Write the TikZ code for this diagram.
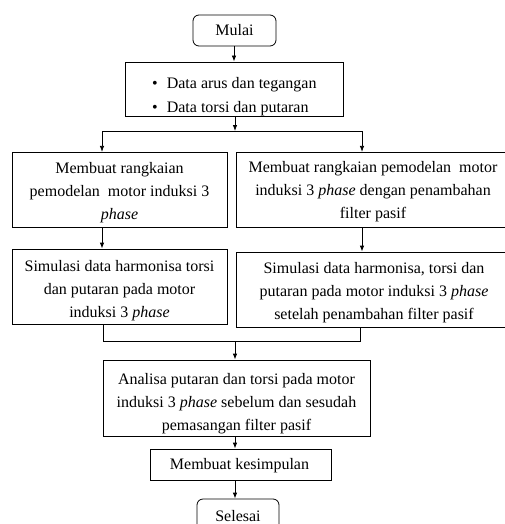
\documentclass[tikz,border=0pt]{standalone}
\usepackage{fontspec}
\setmainfont{Liberation Serif}
\usetikzlibrary{arrows.meta}
\begin{document}
\begin{tikzpicture}[x=1pt,y=-1pt,
  every node/.style={font=\fontsize{16}{22.8}\selectfont, inner sep=0pt},
  box/.style={draw, line width=0.8pt, align=center},
  txt/.style={align=center},
  term/.style={draw, line width=0.8pt, rounded corners=6pt, align=center},
  arr/.style={line width=0.8pt, -{Latex[length=6pt,width=4.5pt]}},
  ln/.style={line width=0.8pt}]
\useasboundingbox (0,0) rectangle (505,524);
% boxes
\node[term, minimum width=83pt, minimum height=31pt] (mulai) at (234.5,30.5) {Mulai};
\node[box, minimum width=218pt, minimum height=54pt] (data) at (234,89) {};
\node[box, minimum width=215pt, minimum height=75pt] (left1) at (119.5,189.8) {};
\node[box, minimum width=274pt, minimum height=75pt] (right1) at (373,189.8) {};
\node[box, minimum width=215pt, minimum height=75pt] (left2) at (119.5,286.5) {};
\node[box, minimum width=274pt, minimum height=75pt] (right2) at (373,289.5) {};
\node[box, minimum width=267pt, minimum height=76pt] (analisa) at (236.5,398) {};
\node[box, minimum width=181pt, minimum height=31pt] (simpul) at (240.5,464.5) {};
\node[term, minimum width=82pt, minimum height=34pt] (selesai) at (238,516) {Selesai};
% texts
\node[align=left, anchor=west, font=\fontsize{16}{24}\selectfont] (datat) at (152,96.3) {\textbullet\hspace{9pt}Data arus dan tegangan\\\textbullet\hspace{9pt}Data torsi dan putaran};
\node[txt] (left1t) at (119.5,192.4) {Membuat rangkaian\\pemodelan\ \ motor induksi 3\\\textit{phase}};
\node[txt] (right1t) at (373,191.8) {Membuat rangkaian pemodelan\ \ motor\\induksi 3 \textit{phase} dengan penambahan\\filter pasif};
\node[txt] (left2t) at (119.5,290.8) {Simulasi data harmonisa torsi\\dan putaran pada motor\\induksi 3 \textit{phase}};
\node[txt] (right2t) at (374,292.4) {Simulasi data harmonisa, torsi dan\\putaran pada motor induksi 3 \textit{phase}\\setelah penambahan filter pasif};
\node[txt] (analisat) at (236.5,403.5) {Analisa putaran dan torsi pada motor\\induksi 3 \textit{phase} sebelum dan sesudah\\pemasangan filter pasif};
\node[txt] (simpult) at (239.5,466) {Membuat kesimpulan};
% x positions
\coordinate (xc) at (235,0);
\coordinate (xm) at (234,0);
\coordinate (xl) at (102,0);
\coordinate (xr) at (362,0);
\coordinate (j1) at (235,131);
\coordinate (jl) at (102,131);
\coordinate (jr) at (362,131);
\coordinate (ml) at (103,341);
\coordinate (mr) at (360,341);
\coordinate (j2) at (235,341);
\draw[arr] (mulai.south -| xm) -- (data.north -| xm);
\draw[arr] (data.south -| xc) -- (j1);
\draw[ln] (jl) -- (jr);
\draw[arr] (jl) -- (left1.north -| xl);
\draw[arr] (jr) -- (right1.north -| xr);
\draw[arr] (left1.south -| xl) -- (left2.north -| xl);
\draw[arr] (right1.south -| xr) -- (right2.north -| xr);
\draw[ln] (left2.south -| ml) -- (ml) -- (mr) -- (right2.south -| mr);
\draw[arr] (j2) -- (analisa.north -| xc);
\draw[arr] (analisa.south -| xc) -- (simpul.north -| xc);
\draw[arr] (simpul.south -| xc) -- (selesai.north -| xc);
\end{tikzpicture}
\end{document}
